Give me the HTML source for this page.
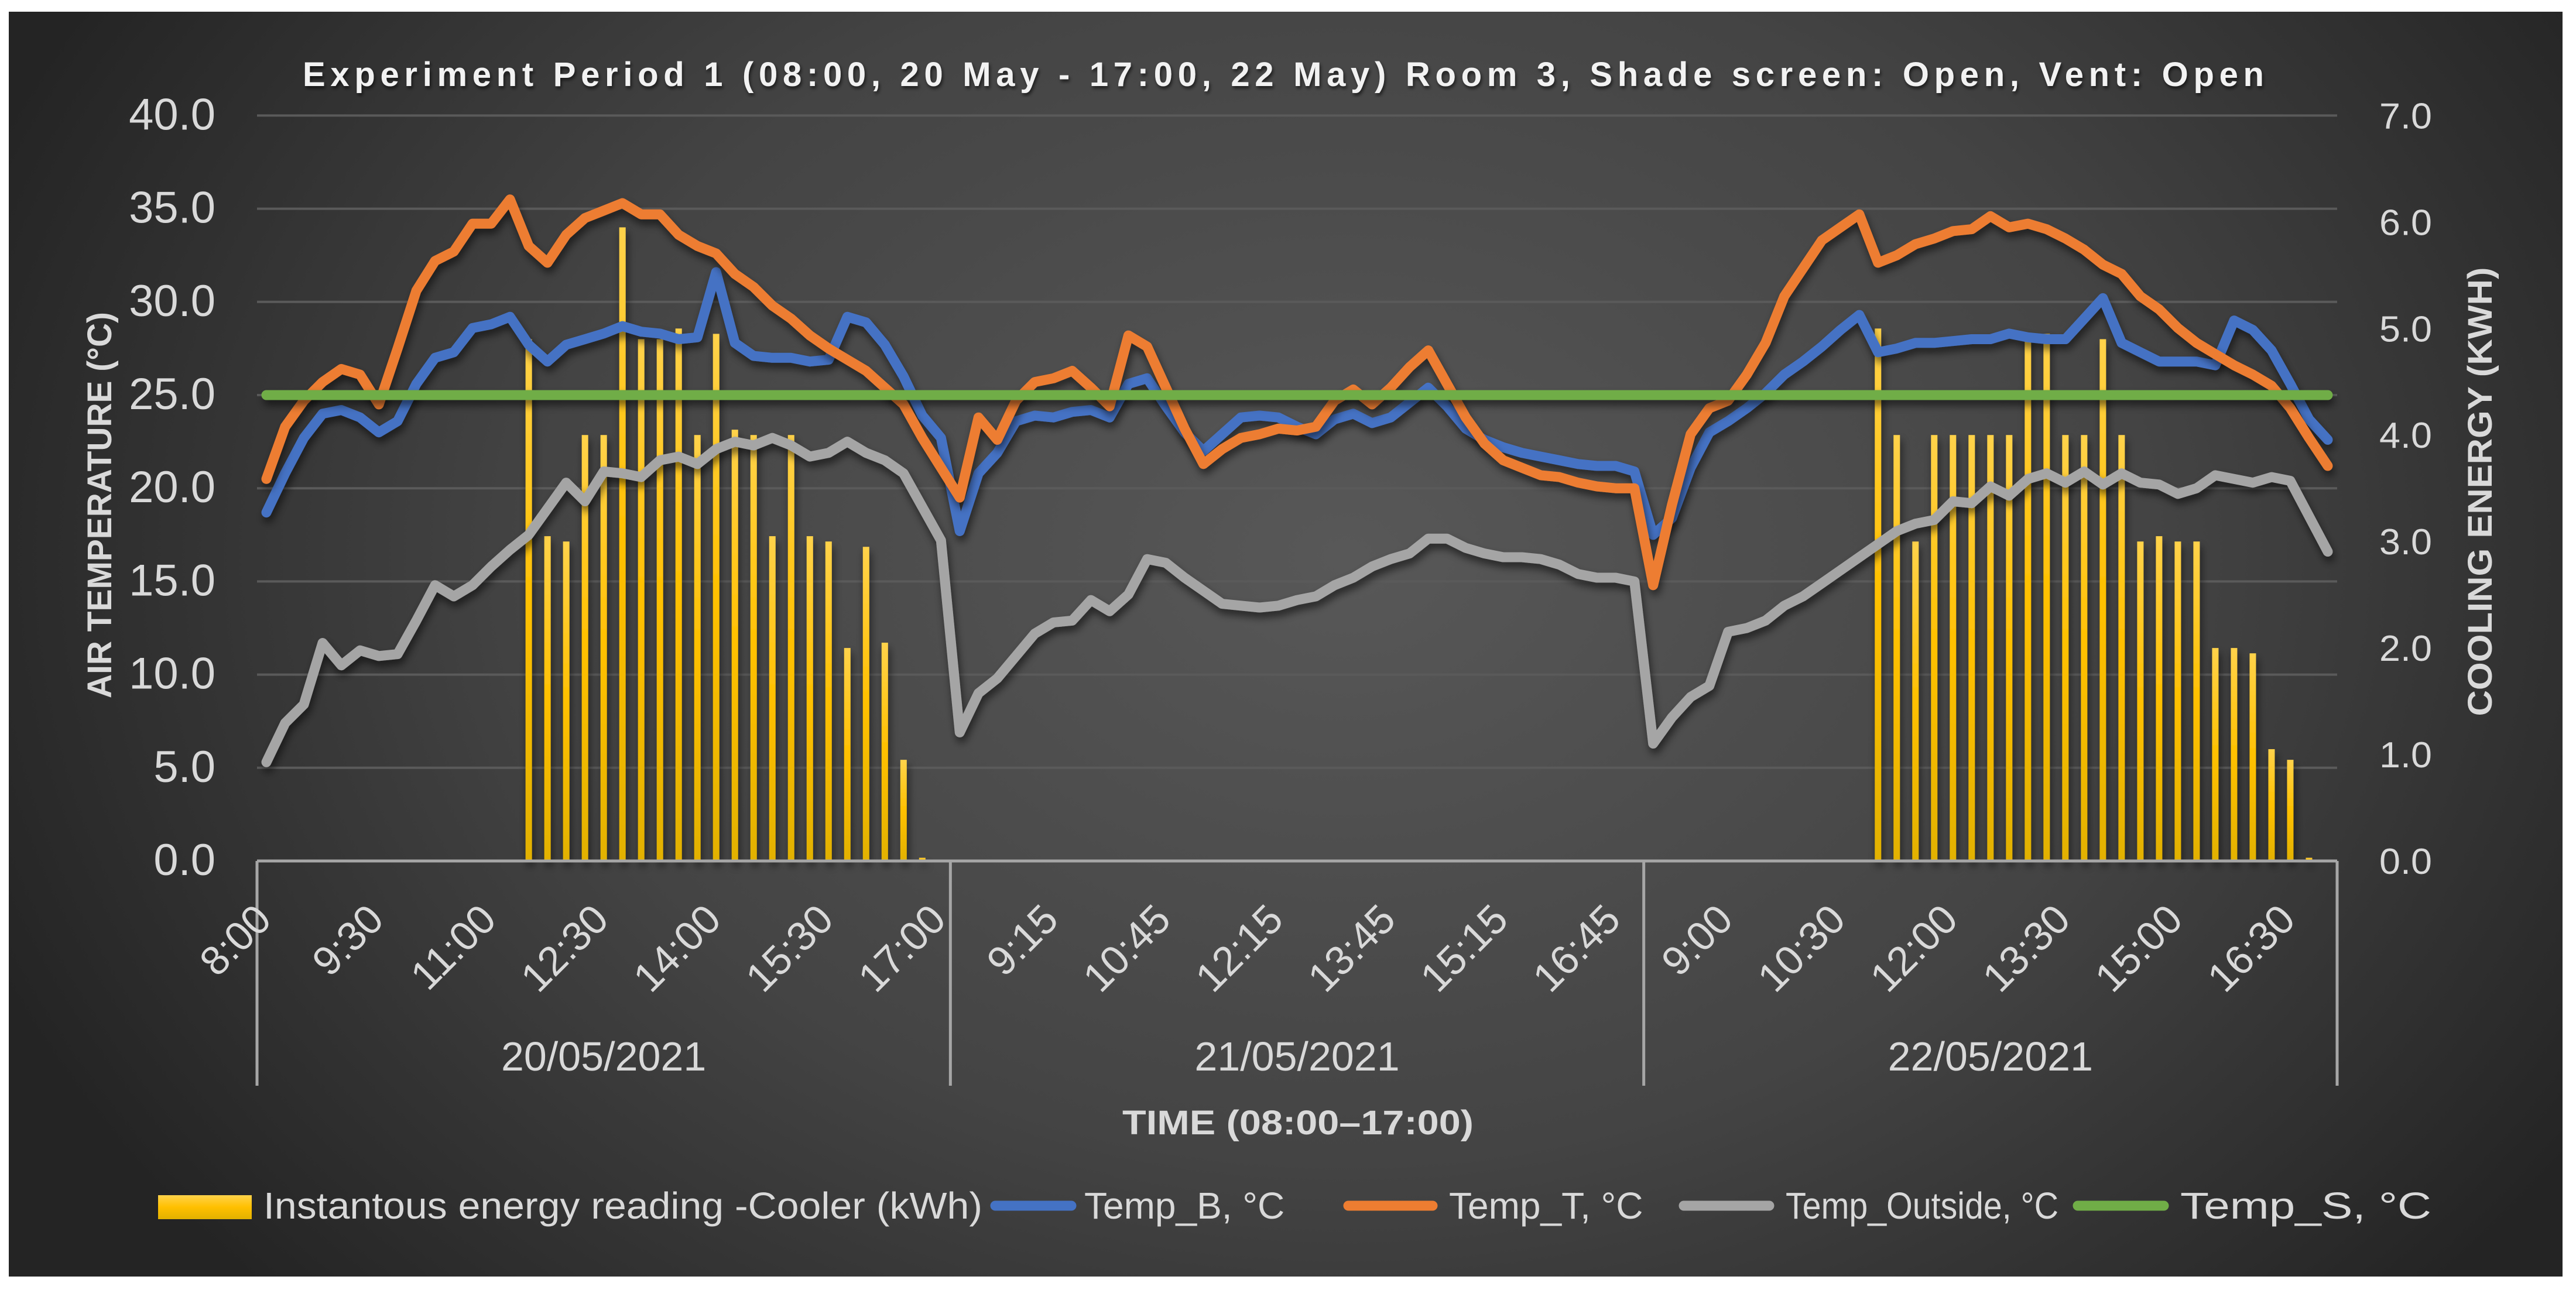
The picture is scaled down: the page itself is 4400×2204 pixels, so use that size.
<!DOCTYPE html>
<html><head><meta charset="utf-8"><title>Experiment Period 1 chart</title>
<style>
html,body{margin:0;padding:0;background:#fff;}
svg{display:block;}
text{font-family:"Liberation Sans Narrow","Liberation Sans",sans-serif;}
</style></head>
<body>
<svg id="chart" width="4400" height="2204" viewBox="0 0 4400 2204" xmlns="http://www.w3.org/2000/svg">
<defs>
<radialGradient id="bg" gradientUnits="userSpaceOnUse" cx="2300" cy="950" r="2500" gradientTransform="translate(2300 950) scale(1 0.75) translate(-2300 -950)">
<stop offset="0" stop-color="#585858"/><stop offset="0.55" stop-color="#444"/><stop offset="1" stop-color="#242424"/>
</radialGradient>
<linearGradient id="barg" x1="0" y1="0" x2="0" y2="1">
<stop offset="0" stop-color="#ffd24a"/><stop offset="0.5" stop-color="#ffc000"/><stop offset="1" stop-color="#e2b100"/>
</linearGradient>
<filter id="sh" filterUnits="userSpaceOnUse" x="0" y="0" width="4400" height="2204">
<feDropShadow dx="3" dy="9" stdDeviation="7" flood-color="#000" flood-opacity="0.55"/>
</filter>
<filter id="tsh"><feDropShadow dx="2" dy="4" stdDeviation="3" flood-color="#000" flood-opacity="0.6"/></filter>
</defs>
<rect x="15" y="20" width="4362" height="2161" fill="url(#bg)"/>
<text x="517" y="147" font-family="Liberation Sans" font-weight="bold" font-size="58" fill="#f2f2f2" textLength="3350" lengthAdjust="spacing" filter="url(#tsh)">Experiment Period 1 (08:00, 20 May - 17:00, 22 May) Room 3, Shade screen: Open, Vent: Open</text>
<g id="grid"></g>
<g id="bars"></g>
<g id="lines"></g>
<g id="axes"></g>
<text transform="translate(190 863) rotate(-90)" text-anchor="middle" font-family="Liberation Sans" font-weight="bold" font-size="58" fill="#d9d9d9" textLength="660" lengthAdjust="spacingAndGlyphs">AIR TEMPERATURE (°C)</text>
<text transform="translate(4256 840) rotate(-90)" text-anchor="middle" font-family="Liberation Sans" font-weight="bold" font-size="58" fill="#d9d9d9" textLength="767" lengthAdjust="spacingAndGlyphs">COOLING ENERGY (KWH)</text>
<text x="2217" y="1938" text-anchor="middle" font-family="Liberation Sans" font-weight="bold" font-size="58" fill="#d9d9d9" textLength="600" lengthAdjust="spacingAndGlyphs">TIME (08:00–17:00)</text>
<g id="legend">
<rect x="270" y="2042" width="160" height="41" fill="url(#barg)"/>
<text x="450" y="2082" font-size="64" fill="#d9d9d9" textLength="1228" lengthAdjust="spacingAndGlyphs">Instantous energy reading -Cooler (kWh)</text>
<line x1="1700" y1="2060" x2="1830" y2="2060" stroke="#4472c4" stroke-width="17" stroke-linecap="round"/>
<text x="1852" y="2082" font-size="64" fill="#d9d9d9">Temp_B, °C</text>
<line x1="2303" y1="2060" x2="2447" y2="2060" stroke="#ed7d31" stroke-width="17" stroke-linecap="round"/>
<text x="2475" y="2082" font-size="64" fill="#d9d9d9">Temp_T, °C</text>
<line x1="2876" y1="2060" x2="3022" y2="2060" stroke="#a5a5a5" stroke-width="17" stroke-linecap="round"/>
<text x="3050" y="2082" font-size="64" fill="#d9d9d9" textLength="466" lengthAdjust="spacingAndGlyphs">Temp_Outside, °C</text>
<line x1="3549" y1="2060" x2="3696" y2="2060" stroke="#70ad47" stroke-width="17" stroke-linecap="round"/>
<text x="3724" y="2082" font-size="64" fill="#d9d9d9" textLength="429" lengthAdjust="spacingAndGlyphs">Temp_S, °C</text>
</g>
</svg>
<script>
const days = ['20/05/2021','21/05/2021','22/05/2021'];
const times = ['8:00','8:15','8:30','8:45','9:00','9:15','9:30','9:45','10:00','10:15','10:30','10:45','11:00','11:15','11:30','11:45','12:00','12:15','12:30','12:45','13:00','13:15','13:30','13:45','14:00','14:15','14:30','14:45','15:00','15:15','15:30','15:45','16:00','16:15','16:30','16:45','17:00'];
const leftTicks = [0,5,10,15,20,25,30,35,40];
const rightTicks = [0,1,2,3,4,5,6,7];
const tempB = [18.7,20.8,22.7,24.0,24.2,23.8,23.0,23.6,25.6,27.0,27.3,28.6,28.8,29.2,27.7,26.8,27.7,28.0,28.3,28.7,28.4,28.3,28.0,28.1,31.6,27.8,27.1,27.0,27.0,26.8,26.9,29.2,28.9,27.7,26.0,23.9,22.7,
17.7,20.8,21.9,23.6,23.9,23.8,24.1,24.2,23.8,25.6,25.9,24.4,23.0,22.0,22.9,23.8,23.9,23.8,23.3,22.9,23.7,24.0,23.5,23.8,24.6,25.4,24.4,23.2,22.6,22.2,21.9,21.7,21.5,21.3,21.2,21.2,20.9,
17.5,18.4,21.1,23.0,23.6,24.3,25.1,26.1,26.8,27.6,28.5,29.3,27.3,27.5,27.8,27.8,27.9,28.0,28.0,28.3,28.1,28.0,28.0,29.1,30.2,27.8,27.3,26.8,26.8,26.8,26.6,29.0,28.5,27.4,25.6,23.7,22.6];
const tempT = [20.5,23.3,24.7,25.7,26.4,26.1,24.5,27.5,30.6,32.2,32.7,34.2,34.2,35.5,33.0,32.1,33.6,34.5,34.9,35.3,34.7,34.7,33.6,33.0,32.6,31.5,30.8,29.8,29.1,28.2,27.5,26.9,26.3,25.4,24.5,22.7,21.1,
19.5,23.8,22.6,24.7,25.7,25.9,26.3,25.4,24.4,28.2,27.6,25.4,23.2,21.3,22.1,22.7,22.9,23.2,23.1,23.3,24.7,25.3,24.5,25.4,26.5,27.4,25.6,23.8,22.4,21.5,21.1,20.7,20.6,20.3,20.1,20.0,20.0,
14.8,19.1,22.9,24.3,24.7,26.1,27.8,30.3,31.8,33.3,34.0,34.7,32.1,32.5,33.1,33.4,33.8,33.9,34.6,34.0,34.2,33.9,33.4,32.8,32.0,31.5,30.3,29.6,28.6,27.8,27.2,26.6,26.1,25.5,24.3,22.7,21.2];
const tempOutside = [5.3,7.4,8.4,11.7,10.5,11.3,11.0,11.1,12.9,14.8,14.2,14.8,15.8,16.7,17.5,18.9,20.3,19.3,20.9,20.8,20.6,21.5,21.7,21.3,22.1,22.5,22.3,22.7,22.3,21.7,21.9,22.5,21.9,21.5,20.8,19.0,17.2,
6.9,9.0,9.8,11.0,12.2,12.8,12.9,14.0,13.4,14.3,16.2,16.0,15.2,14.5,13.8,13.7,13.6,13.7,14.0,14.2,14.8,15.2,15.8,16.2,16.5,17.3,17.3,16.8,16.5,16.3,16.3,16.2,15.9,15.4,15.2,15.2,15.0,
6.3,7.7,8.8,9.4,12.3,12.5,12.9,13.7,14.2,14.9,15.6,16.3,17.0,17.7,18.1,18.3,19.3,19.2,20.1,19.6,20.5,20.8,20.3,20.9,20.2,20.8,20.3,20.2,19.7,20.0,20.7,20.5,20.3,20.6,20.4,18.5,16.6];
const tempS = [25,25,25,25,25,25,25,25,25,25,25,25,25,25,25,25,25,25,25,25,25,25,25,25,25,25,25,25,25,25,25,25,25,25,25,25,25,
25,25,25,25,25,25,25,25,25,25,25,25,25,25,25,25,25,25,25,25,25,25,25,25,25,25,25,25,25,25,25,25,25,25,25,25,25,
25,25,25,25,25,25,25,25,25,25,25,25,25,25,25,25,25,25,25,25,25,25,25,25,25,25,25,25,25,25,25,25,25,25,25,25,25];
const energy = [0,0,0,0,0,0,0,0,0,0,0,0,0,0,4.9,3.05,3.0,4.0,4.0,5.95,4.9,4.9,5.0,4.0,4.95,4.05,4.0,3.05,4.0,3.05,3.0,2.0,2.95,2.05,0.95,0.03,0,
0,0,0,0,0,0,0,0,0,0,0,0,0,0,0,0,0,0,0,0,0,0,0,0,0,0,0,0,0,0,0,0,0,0,0,0,0,
0,0,0,0,0,0,0,0,0,0,0,0,5.0,4.0,3.0,4.0,4.0,4.0,4.0,4.0,4.95,4.95,4.0,4.0,4.9,4.0,3.0,3.05,3.0,3.0,2.0,2.0,1.95,1.05,0.95,0.03,0];

const NS = 'http://www.w3.org/2000/svg';
const PL = 439, PR = 3992, Y0 = 1471, Y40 = 197.4;
const N = days.length * times.length;
const cw = (PR - PL) / N;
function xAt(i){ return PL + cw * (i + 0.5); }
function yL(v){ return Y0 - (v / 40) * (Y0 - Y40); }
function yR(v){ return Y0 - (v / 7) * (Y0 - Y40); }
function mk(tag, attrs, parent){ const e = document.createElementNS(NS, tag); for (const k in attrs) e.setAttribute(k, attrs[k]); parent.appendChild(e); return e; }

const grid = document.getElementById('grid');
leftTicks.forEach(function(t){
  if (t === 0) return;
  const g = mk('line', {x1: PL, x2: PR, y1: yL(t), y2: yL(t), stroke: '#5a5a5a', 'stroke-width': 4}, grid);
  
  
});

const axes = document.getElementById('axes');
leftTicks.forEach(function(t){
  const tx = mk('text', {x: 368, y: yL(t) + 24, 'text-anchor': 'end', 'font-size': 76, fill: '#d9d9d9'}, axes);
  tx.textContent = t.toFixed(1);
  
  
});
rightTicks.forEach(function(t){
  const tx = mk('text', {x: 4064, y: yR(t) + 22, 'font-size': 62, 'font-family': 'Liberation Sans', fill: '#d9d9d9', textLength: 90, lengthAdjust: 'spacingAndGlyphs'}, axes);
  tx.textContent = t.toFixed(1);
  
  
});
const ax = mk('line', {x1: PL, x2: PR, y1: Y0, y2: Y0, stroke: '#a6a6a6', 'stroke-width': 5}, axes);


for (let d = 0; d <= days.length; d++){
  const xx = PL + d * times.length * cw;
  const dl = mk('line', {x1: xx, x2: xx, y1: Y0, y2: 1855, stroke: '#a6a6a6', 'stroke-width': 5}, axes);
  
  
}
days.forEach(function(dname, d){
  const cx = PL + (d + 0.5) * times.length * cw;
  const t = mk('text', {x: cx, y: 1829, 'text-anchor': 'middle', 'font-size': 70, fill: '#d9d9d9'}, axes);
  t.textContent = dname;
  
  
});
for (let i = 0; i < N; i++){
  if (i % 6 !== 0) continue;
  const k = i % times.length;
  const bx = xAt(i) + 12, by = 1575;
  const t = mk('text', {x: bx, y: by, 'text-anchor': 'end', 'font-size': 70, fill: '#d9d9d9', transform: 'rotate(-45 ' + bx + ' ' + by + ')'}, axes);
  t.textContent = times[k];
  
  
}

const bars = document.getElementById('bars');
energy.forEach(function(v, i){
  if (v <= 0) return;
  const top = yR(v);
  const b = mk('rect', {x: xAt(i) - 5.5, y: top, width: 11, height: Y0 - top, fill: 'url(#barg)', filter: 'url(#sh)'}, bars);
  
  
});

const lines = document.getElementById('lines');
const seriesList = [[tempB, '#4472c4', 'temp-b-line'], [tempT, '#ed7d31', 'temp-t-line'], [tempOutside, '#a5a5a5', 'temp-outside-line'], [tempS, '#70ad47', 'temp-s-line']];
seriesList.forEach(function(s){
  const pts = s[0].map(function(v, i){ return xAt(i).toFixed(1) + ',' + yL(v).toFixed(1); }).join(' ');
  const p = mk('polyline', {points: pts, fill: 'none', stroke: s[1], 'stroke-width': 17, 'stroke-linejoin': 'round', 'stroke-linecap': 'round', filter: 'url(#sh)'}, lines);
  
  
});
</script>
</body></html>
